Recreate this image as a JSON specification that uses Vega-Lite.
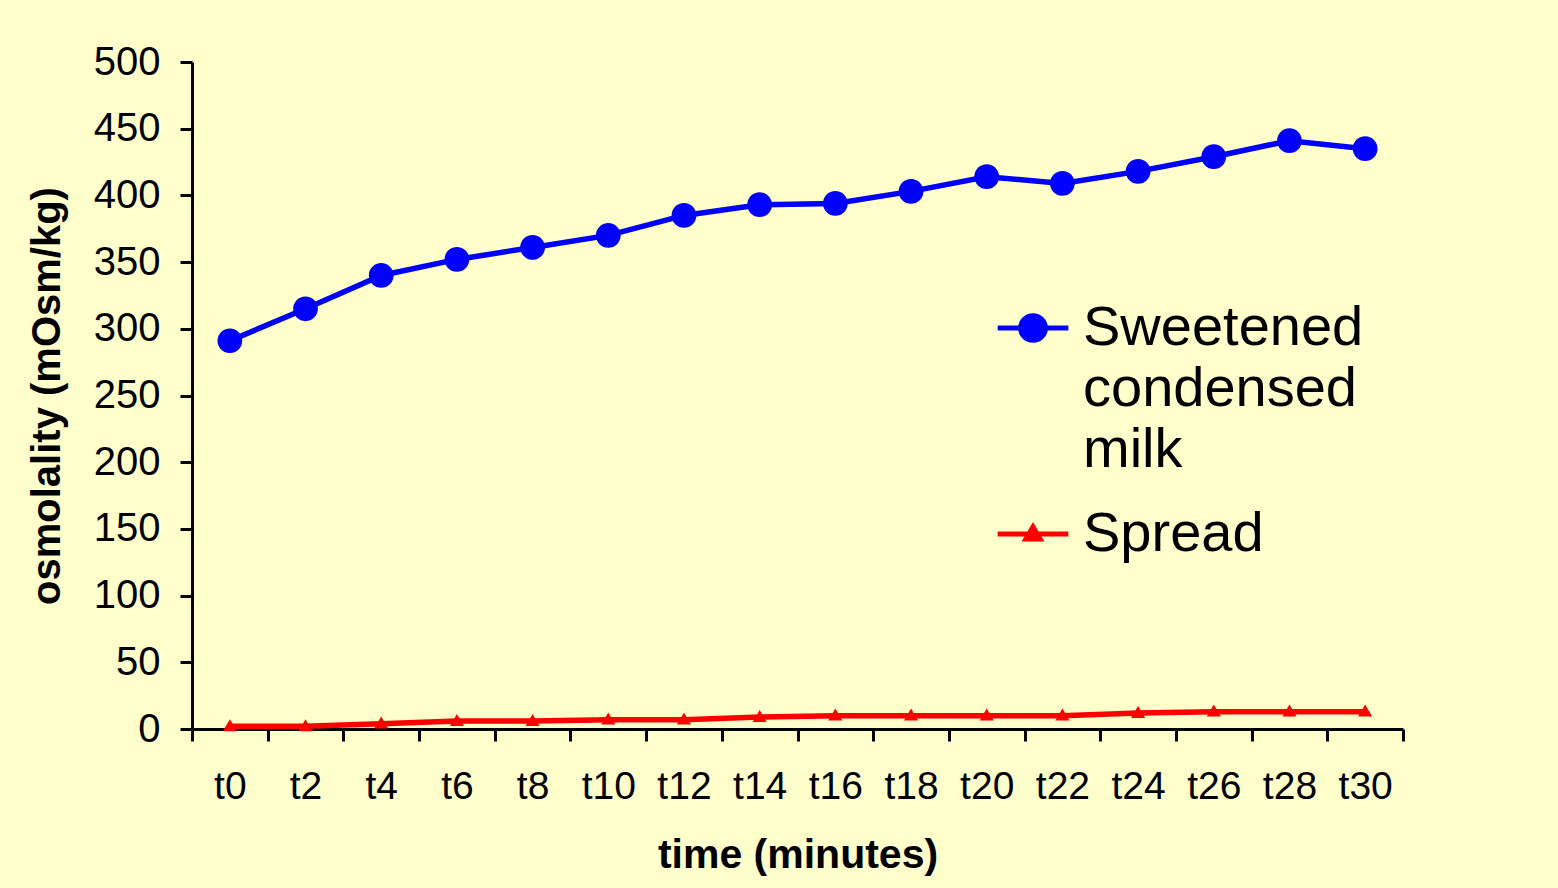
{
  "$schema": "https://vega.github.io/schema/vega-lite/v6.json",
  "width": 1211,
  "height": 667,
  "autosize": "none",
  "padding": {"left": 192, "top": 62, "right": 155, "bottom": 159},
  "background": "#FFFFCC",
  "config": {
    "font": "Liberation Sans",
    "view": {"stroke": null}
  },
  "data": {
    "values": [
      {"time": "t0", "series": "Sweetened condensed milk", "osmolality": 291},
      {"time": "t2", "series": "Sweetened condensed milk", "osmolality": 315},
      {"time": "t4", "series": "Sweetened condensed milk", "osmolality": 340},
      {"time": "t6", "series": "Sweetened condensed milk", "osmolality": 352},
      {"time": "t8", "series": "Sweetened condensed milk", "osmolality": 361},
      {"time": "t10", "series": "Sweetened condensed milk", "osmolality": 370},
      {"time": "t12", "series": "Sweetened condensed milk", "osmolality": 385},
      {"time": "t14", "series": "Sweetened condensed milk", "osmolality": 393},
      {"time": "t16", "series": "Sweetened condensed milk", "osmolality": 394},
      {"time": "t18", "series": "Sweetened condensed milk", "osmolality": 403},
      {"time": "t20", "series": "Sweetened condensed milk", "osmolality": 414},
      {"time": "t22", "series": "Sweetened condensed milk", "osmolality": 409},
      {"time": "t24", "series": "Sweetened condensed milk", "osmolality": 418},
      {"time": "t26", "series": "Sweetened condensed milk", "osmolality": 429},
      {"time": "t28", "series": "Sweetened condensed milk", "osmolality": 441},
      {"time": "t30", "series": "Sweetened condensed milk", "osmolality": 435},
      {"time": "t0", "series": "Spread", "osmolality": 2},
      {"time": "t2", "series": "Spread", "osmolality": 2},
      {"time": "t4", "series": "Spread", "osmolality": 4},
      {"time": "t6", "series": "Spread", "osmolality": 6},
      {"time": "t8", "series": "Spread", "osmolality": 6},
      {"time": "t10", "series": "Spread", "osmolality": 7},
      {"time": "t12", "series": "Spread", "osmolality": 7},
      {"time": "t14", "series": "Spread", "osmolality": 9},
      {"time": "t16", "series": "Spread", "osmolality": 10},
      {"time": "t18", "series": "Spread", "osmolality": 10},
      {"time": "t20", "series": "Spread", "osmolality": 10},
      {"time": "t22", "series": "Spread", "osmolality": 10},
      {"time": "t24", "series": "Spread", "osmolality": 12},
      {"time": "t26", "series": "Spread", "osmolality": 13},
      {"time": "t28", "series": "Spread", "osmolality": 13},
      {"time": "t30", "series": "Spread", "osmolality": 13}
    ]
  },
  "encoding": {
    "x": {
      "field": "time",
      "type": "nominal",
      "sort": null,
      "scale": {"type": "band", "paddingInner": 0, "paddingOuter": 0},
      "axis": {
        "title": "time (minutes)",
        "titleFont": "Liberation Sans",
        "titleFontSize": 41,
        "titleFontWeight": "bold",
        "titleColor": "#000000",
        "titlePadding": 29,
        "labelAngle": 0,
        "labelFontSize": 39,
        "labelColor": "#000000",
        "labelPadding": 26,
        "tickBand": "extent",
        "tickSize": 12,
        "tickWidth": 3,
        "tickColor": "#000000",
        "domainWidth": 3,
        "domainColor": "#000000",
        "grid": false
      }
    },
    "y": {
      "field": "osmolality",
      "type": "quantitative",
      "scale": {"domain": [0, 500], "nice": false},
      "axis": {
        "title": "osmolality (mOsm/kg)",
        "titleFont": "Liberation Sans",
        "titleFontSize": 40,
        "titleFontWeight": "bold",
        "titleColor": "#000000",
        "titlePadding": 26,
        "values": [0, 50, 100, 150, 200, 250, 300, 350, 400, 450, 500],
        "labelFontSize": 40,
        "labelColor": "#000000",
        "labelPadding": 20,
        "tickSize": 12,
        "tickWidth": 3,
        "tickColor": "#000000",
        "domainWidth": 3,
        "domainColor": "#000000",
        "grid": false
      }
    },
    "color": {
      "field": "series",
      "type": "nominal",
      "scale": {
        "domain": ["Sweetened condensed milk", "Spread"],
        "range": ["#0000FF", "#FF0000"]
      },
      "legend": {
        "title": null,
        "orient": "none",
        "legendX": 803,
        "legendY": 228,
        "symbolSize": 5000,
        "labelFontSize": 56,
        "labelColor": "#000000",
        "labelOffset": 12,
        "labelLimit": 600,
        "labelBaseline": "top",
        "rowPadding": 18,
        "labelExpr": "datum.label == 'Sweetened condensed milk' ? ['Sweetened', 'condensed', 'milk'] : datum.label",
        "encode": {
          "symbols": {
            "update": {
              "stroke": {"scale": "color", "field": "value"},
              "strokeWidth": {"value": 5},
              "opacity": {"value": 1}
            }
          },
          "labels": {
            "update": {
              "lineHeight": {"value": 61},
              "dy": {"value": -27}
            }
          }
        }
      }
    },
    "shape": {
      "field": "series",
      "type": "nominal",
      "scale": {
        "domain": ["Sweetened condensed milk", "Spread"],
        "range": [
          "M-1,0H1M-0.35,0A0.35,0.35 0 1,0 0.35,0A0.35,0.35 0 1,0 -0.35,0Z",
          "M-1,0H1M0,-0.2L0.2,0.14H-0.2Z"
        ]
      }
    }
  },
  "layer": [
    {
      "mark": {"type": "line", "strokeWidth": 5.5},
      "encoding": {
        "shape": null
      }
    },
    {
      "mark": {"type": "point", "filled": true, "size": 5000, "opacity": 1, "strokeWidth": 0}
    }
  ]
}
